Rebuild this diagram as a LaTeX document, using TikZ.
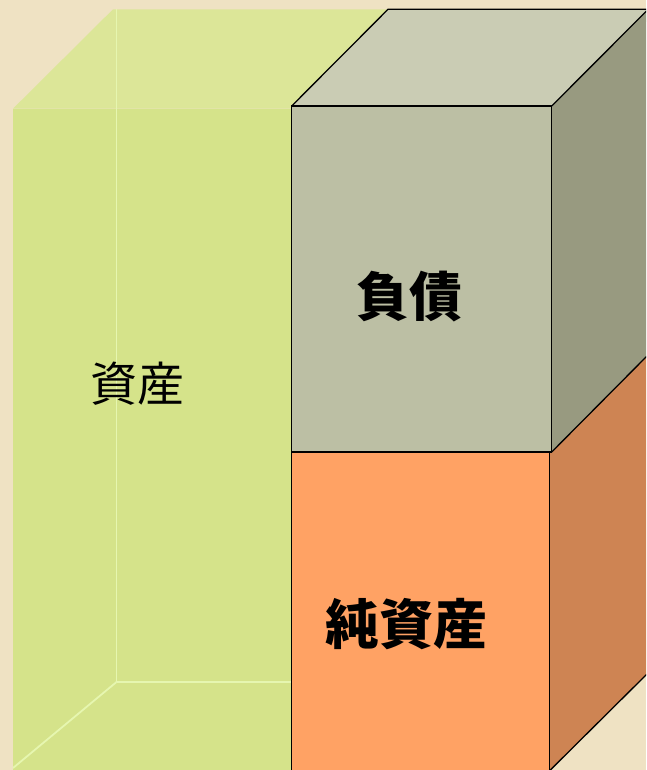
\documentclass[tikz,border=0pt]{standalone}
\usepackage{fontspec}
\newfontfamily\jpfont{Noto Sans CJK JP}
\newfontfamily\jpbold{Noto Sans CJK JP}[FakeBold=0,BoldFont={* Bold}]
\definecolor{bgc}{HTML}{EFE2C3}
\definecolor{greenfront}{HTML}{D5E38A}
\definecolor{greentop}{HTML}{DCE698}
\definecolor{greenline}{HTML}{E6F6B0}
\definecolor{grayfront}{HTML}{BCBFA4}
\definecolor{graytop}{HTML}{CACCB4}
\definecolor{grayside}{HTML}{989A80}
\definecolor{orfront}{HTML}{FFA264}
\definecolor{orside}{HTML}{CE8453}
\tikzset{
  edge/.style={draw=black,line width=1.3pt,line join=miter},
  backline/.style={draw=greenline,line width=1.8pt},
  lbl/.style={text=black,inner sep=0pt}
}
\begin{document}
\begin{tikzpicture}[x=1pt,y=-1pt]
\useasboundingbox (0,0) rectangle (646,770);
\clip (0,0) rectangle (646,770);
\fill[bgc] (0,0) rectangle (646,770);
% asset box (translucent green)
\fill[greenfront] (13,108.7) rectangle (300,780);
\fill[greentop] (13,108.7) -- (113,9.3) -- (400,9.3) -- (300,108.7) -- cycle;
\coordinate (bk) at (116.5,682);
\draw[backline] (116.5,9.5) -- (bk);
\draw[backline] (bk) -- (295,682);
\draw[backline] (bk) -- (13,768);
% liabilities box
\fill[graytop] (291.7,106) -- (388,9.3) -- (660,9.3) -- (551.7,106) -- cycle;
\fill[grayside] (551.7,106) -- (648,9.5) -- (648,355) -- (551.7,452) -- cycle;
\fill[grayfront] (291.7,106) rectangle (551.7,452);
% net assets box
\fill[orside] (549.3,452) -- (551.7,452) -- (648,355) -- (648,673) -- (549.3,771) -- cycle;
\fill[orfront] (291.7,452) rectangle (549.3,775);
% outlines
\draw[edge] (291.7,106) -- (388,9.3) -- (660,9.3);
\draw[edge] (551.7,106) -- (648,9.5);
\draw[edge] (291.7,106) rectangle (551.7,452);
\draw[edge] (551.7,452) -- (648,355);
\draw[edge] (291.7,452) -- (291.7,775);
\draw[edge] (549.3,452) -- (549.3,775);
\draw[edge] (549.3,771) -- (648,673);
% labels
\node[lbl,font=\jpfont\fontsize{47}{47}\selectfont] (asset) at (137.5,384) {資産};
\node[lbl,font=\jpfont\bfseries\fontsize{53}{53}\selectfont] (liab) at (409,297) {負債};
\node[lbl,font=\jpfont\bfseries\fontsize{54}{54}\selectfont] (net) at (406.5,624) {純資産};
\end{tikzpicture}
\end{document}
